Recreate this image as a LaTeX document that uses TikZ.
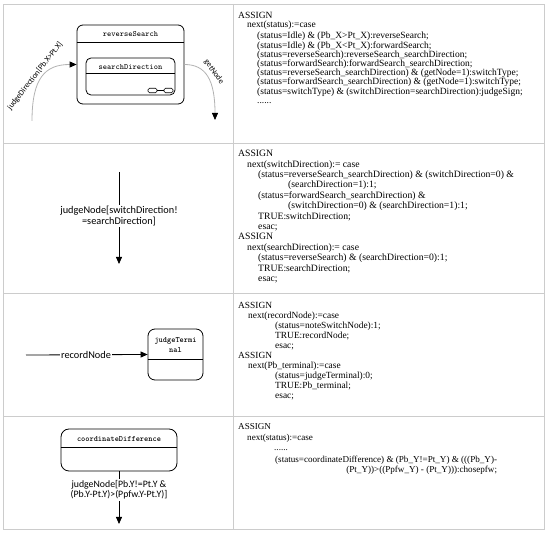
\documentclass[tikz,border=0pt]{standalone}
\usepackage{fontspec}
\setmainfont{Liberation Serif}
\newfontfamily\labelfont{Carlito}
\usetikzlibrary{arrows.meta}

\tikzset{
  statebox/.style={draw=black, line width=0.8pt, rounded corners=6pt, inner sep=0pt},
  statename/.style={font=\ttfamily\fontsize{8}{10}\selectfont, inner sep=0pt, align=center},
  codetext/.style={align=left, inner sep=0pt, anchor=north west},
  edgelabel/.style={font=\labelfont\fontsize{9.8}{10.5}\selectfont, align=center, inner sep=1pt},
  flow/.style={-{Triangle[length=7pt,width=6pt,color=black]}, line width=0.8pt},
  gridline/.style={draw=black!20, line width=0.8pt}
}

\begin{document}
\begin{tikzpicture}[x=1pt,y=-1pt]
\useasboundingbox (0,0) rectangle (550,534);
\draw[gridline] (3,4) rectangle (544,529);
\draw[gridline] (233,4) -- (233,529);
\draw[gridline] (3,143) -- (544,143);
\draw[gridline] (3,293) -- (544,293);
\draw[gridline] (3,416) -- (544,416);

\node[statebox, minimum width=107pt, minimum height=79pt] (reverse) at (130.5,64.5) {};
\draw ([yshift=-18pt]reverse.north west) -- ([yshift=-18pt]reverse.north east);
\node[statename] (reversename) at (130.5,34) {reverseSearch};
\node[statebox, rounded corners=5pt, minimum width=89pt, minimum height=37pt] (direction) at (130.5,76.5) {};
\draw ([yshift=-16pt]direction.north west) -- ([yshift=-16pt]direction.north east);
\node[statename] (directionname) at (130.5,67) {searchDirection};
\node[draw, rounded corners=1.5pt, minimum width=9pt, minimum height=4.5pt, inner sep=0pt, line width=0.6pt] (iconl) at (152.5,90.5) {};
\node[draw, rounded corners=1.5pt, minimum width=9pt, minimum height=4.5pt, inner sep=0pt, line width=0.6pt] (iconr) at (168.5,90.5) {};
\draw[line width=0.6pt] (iconl) -- (iconr);
\coordinate (instart) at (32,121);
\draw[flow, draw=black!30] (instart) .. controls (32,78) and (45,64.5) .. (reverse.west);
\node[edgelabel, font=\labelfont\fontsize{8}{9}\selectfont, rotate=52] (inlabel) at (35,76) {judgeDirection[Pb.X>Pt.X]};
\coordinate (outend) at (215,120);
\draw[flow, draw=black!30] (reverse.east) .. controls (206,64.5) and (215,80) .. (outend);
\node[edgelabel, font=\labelfont\fontsize{8}{9}\selectfont, rotate=-54] (outlabel) at (214,72) {getNode};

\coordinate (jtop) at (119,172);
\coordinate (jbot) at (119,264);
\draw[flow] (jtop) -- (jbot);
\node[edgelabel, fill=white, font=\labelfont\fontsize{10.3}{10.5}\selectfont] (jlabel) at (119,216) {judgeNode[switchDirection!\\=searchDirection]};

\node[statebox, rounded corners=7pt, minimum width=55pt, minimum height=51pt] (terminal) at (175.5,354.5) {};
\draw ([yshift=-31pt]terminal.north west) -- ([yshift=-31pt]terminal.north east);
\node[statename, font=\ttfamily\bfseries\fontsize{8}{10.5}\selectfont] (terminalname) at (175.5,345) {judgeTermi\\nal};
\coordinate (rstart) at (26,355);
\draw[flow] (rstart) -- (terminal.west);
\node[edgelabel, fill=white, font=\labelfont\fontsize{10.3}{11}\selectfont] (rlabel) at (86,355) {recordNode};

\node[statebox, rounded corners=8pt, minimum width=116pt, minimum height=42pt] (coord) at (119,450) {};
\draw ([yshift=-19pt]coord.north west) -- ([yshift=-19pt]coord.north east);
\node[statename, font=\ttfamily\bfseries\fontsize{8}{10}\selectfont] (coordname) at (119,439) {coordinateDifference};
\coordinate (cend) at (119,524);
\draw[flow] (coord.south) -- (cend);
\node[edgelabel, fill=white] (clabel) at (119,490) {judgeNode[Pb.Y!=Pt.Y \&\\(Pb.Y-Pt.Y)>(Ppfw.Y-Pt.Y)]};

\node[codetext, font=\fontsize{9.5}{9.2}\selectfont] (code1) at (238,12) {ASSIGN\\
\hspace*{9pt}next(status):=case\\[2pt]
\hspace*{19pt}(status=Idle) \& (Pb\_X>Pt\_X):reverseSearch;\\
\hspace*{19pt}(status=Idle) \& (Pb\_X<Pt\_X):forwardSearch;\\
\hspace*{19pt}(status=reverseSearch):reverseSearch\_searchDirection;\\
\hspace*{19pt}(status=forwardSearch):forwardSearch\_searchDirection;\\
\hspace*{19pt}(status=reverseSearch\_searchDirection) \& (getNode=1):switchType;\\
\hspace*{19pt}(status=forwardSearch\_searchDirection) \& (getNode=1):switchType;\\
\hspace*{19pt}(status=switchType) \& (switchDirection=searchDirection):judgeSign;\\
\hspace*{19pt}......};

\node[codetext, font=\fontsize{9.7}{10.4}\selectfont] (code2) at (238,150) {ASSIGN\\
\hspace*{9pt}next(switchDirection):= case\\
\hspace*{20pt}(status=reverseSearch\_searchDirection) \& (switchDirection=0) \&\\
\hspace*{50pt}(searchDirection=1):1;\\
\hspace*{20pt}(status=forwardSearch\_searchDirection) \&\\
\hspace*{50pt}(switchDirection=0) \& (searchDirection=1):1;\\
\hspace*{20pt}TRUE:switchDirection;\\
\hspace*{20pt}esac;\\
ASSIGN\\
\hspace*{9pt}next(searchDirection):= case\\
\hspace*{20pt}(status=reverseSearch) \& (searchDirection=0):1;\\
\hspace*{20pt}TRUE:searchDirection;\\
\hspace*{20pt}esac;};

\node[codetext, font=\fontsize{9.4}{10}\selectfont] (code3) at (238,302) {ASSIGN\\
\hspace*{10pt}next(recordNode):=case\\
\hspace*{37pt}(status=noteSwitchNode):1;\\
\hspace*{37pt}TRUE:recordNode;\\
\hspace*{37pt}esac;\\
ASSIGN\\
\hspace*{10pt}next(Pb\_terminal):=case\\
\hspace*{37pt}(status=judgeTerminal):0;\\
\hspace*{37pt}TRUE:Pb\_terminal;\\
\hspace*{37pt}esac;};

\node[codetext, font=\fontsize{9.1}{10.8}\selectfont] (code4) at (238,423) {ASSIGN\\
\hspace*{9pt}next(status):=case\\
\hspace*{36pt}......};
\node[codetext, align=right, font=\fontsize{9.1}{10}\selectfont] (code4case) at (275,456.3) {(status=coordinateDifference) \& (Pb\_Y!=Pt\_Y) \& (((Pb\_Y)-\\
(Pt\_Y))>((Ppfw\_Y) - (Pt\_Y))):chosepfw;};
\end{tikzpicture}
\end{document}
